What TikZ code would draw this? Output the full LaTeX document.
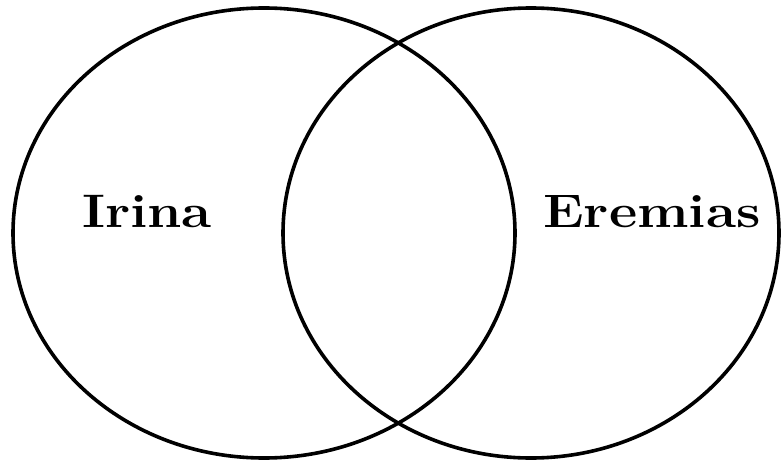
\documentclass[tikz,border=0pt]{standalone}
\usetikzlibrary{positioning}

\begin{document}
\begin{tikzpicture}[
        x=1pt, y=-1pt,
        set/.style={draw=black, line width=3.6pt},
        lbl/.style={anchor=base, xscale=1.17, font=\fontsize{47}{50}\selectfont\bfseries}]
      \useasboundingbox (0,0) rectangle (781,465);
      \draw[set] (264,233) ellipse [x radius=251pt, y radius=225pt];
      \draw[set] (531,233) ellipse [x radius=248pt, y radius=225pt];
      \node[lbl] (irina) at (147,227) {Irina};
      \node[lbl] (eremias) at (652,227) {Eremias};
    \end{tikzpicture}
\end{document}
